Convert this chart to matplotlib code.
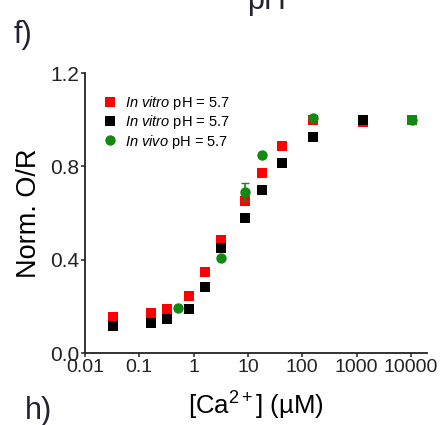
import matplotlib
matplotlib.use("Agg")
import matplotlib.pyplot as plt
import numpy as np

plt.rcParams['font.family'] = ['Liberation Sans', 'DejaVu Sans']
plt.rcParams['mathtext.fontset'] = 'custom'
plt.rcParams['mathtext.rm'] = 'Liberation Sans'
plt.rcParams['mathtext.it'] = 'Liberation Sans:italic'

# data
ca_red = [0.033, 0.165, 0.32, 0.82, 1.63, 3.2, 8.7, 18, 41.6, 155, 1290, 10700]
or_red = [0.155, 0.173, 0.19, 0.244, 0.348, 0.484, 0.65, 0.77, 0.887, 0.999, 0.99, 1.0]

ca_black = [0.033, 0.165, 0.32, 0.82, 1.63, 3.2, 8.7, 18, 41.6, 155, 1290, 10700]
or_black = [0.117, 0.13, 0.146, 0.187, 0.282, 0.449, 0.577, 0.70, 0.813, 0.927, 1.0, 1.0]

ca_green = [0.51, 3.2, 8.7, 18, 155, 10700]
or_green = [0.194, 0.406, 0.689, 0.85, 1.006, 1.0]
err_green = [0.0, 0.0, 0.038, 0.0, 0.0, 0.0]

labels = [r'$\it{In\ vitro}$ pH = 5.7', r'$\it{In\ vitro}$ pH = 5.7', r'$\it{In\ vivo}$ pH = 5.7']
green = '#128a12'

fig = plt.figure(figsize=(4.45, 4.25), dpi=100)
ax = fig.add_axes([0.191, 0.1694, 0.769, 0.6588])

ax.plot(ca_red, or_red, 's', color='red', ms=6.5, mew=0, label=labels[0], zorder=3)
ax.plot(ca_black, or_black, 's', color='black', ms=6.5, mew=0, label=labels[1], zorder=3)
ax.errorbar(ca_green, or_green, yerr=err_green, fmt='none', ecolor=green,
            capsize=3, elinewidth=1.2, zorder=4)
ax.plot(ca_green, or_green, 'o', color=green, ms=7.5, mew=0, label=labels[2], zorder=4)
# last in vivo point shows as a square in the figure
ax.plot(ca_green[-1:], or_green[-1:], 's', color=green, ms=6.8, mew=0, zorder=5)

ax.set_xscale('log')
ax.set_xlim(0.01, 2e4)
ax.set_ylim(0, 1.2)
ax.set_yticks([0, 0.4, 0.8, 1.2])
ax.set_yticklabels(['0.0', '0.4', '0.8', '1.2'])
ax.set_xticks([0.01, 0.1, 1, 10, 100, 1000, 10000])
ax.set_xticklabels(['0.01', '0.1', '1', '10', '100', '1000', '10000'])
ax.xaxis.set_minor_locator(matplotlib.ticker.NullLocator())
ax.tick_params(width=1.1, length=3, pad=1, colors='#222222')
ax.tick_params(axis='y', labelsize=15)
ax.tick_params(axis='x', labelsize=14)

for s in ['top', 'right']:
    ax.spines[s].set_visible(False)
for s in ['left', 'bottom']:
    ax.spines[s].set_linewidth(1.3)
    ax.spines[s].set_color('#222222')

ax.set_ylabel('Norm. O/R', fontsize=19.5, labelpad=6)
ax.set_xlabel('[Ca$^{2+}$] (\u00b5M)', fontsize=18.5, labelpad=10)

ax.legend(loc='upper left', bbox_to_anchor=(0.035, 0.945), frameon=False, fontsize=10.5,
          handletextpad=0.5, labelspacing=0.08, handlelength=1.0, borderaxespad=0)

fig.text(0.03, 0.9, 'f)', fontsize=22, color='#222233')
fig.text(0.055, 0.015, 'h)', fontsize=22, color='#222233')
fig.text(0.555, 0.98, 'pH', fontsize=22, color='#222233')

fig.savefig('out.png', dpi=100)
